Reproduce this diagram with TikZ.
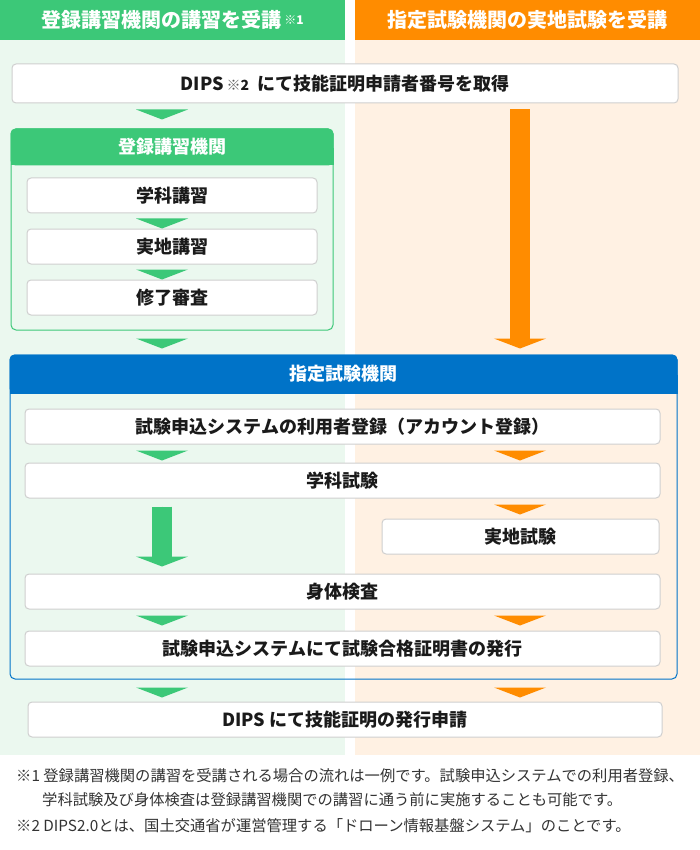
\documentclass[tikz,border=0pt]{standalone}
\usepackage{fontspec}
\setmainfont{Noto Sans CJK JP}
\usetikzlibrary{calc,arrows.meta}
\definecolor{gc}{HTML}{3CC878}
\definecolor{lg}{HTML}{EBF8EF}
\definecolor{oc}{HTML}{FF8C00}
\definecolor{lo}{HTML}{FFF1E3}
\definecolor{bc}{HTML}{0073C8}
\definecolor{bgray}{HTML}{CFCFCF}
\definecolor{txt}{HTML}{1A1A1A}
\definecolor{fn}{HTML}{333333}
\tikzset{
  wbox/.style={draw=bgray, fill=white, rounded corners=4pt, line width=1pt, inner sep=0pt,
    font=\bfseries\fontsize{18}{21}\selectfont, text=txt},
  hdr/.style={inner sep=0pt, text=white, font=\bfseries\fontsize{20}{23}\selectfont},
  ttl/.style={inner sep=0pt, text=white, font=\bfseries\fontsize{18}{21}\selectfont},
  frame/.style={line width=1pt, rounded corners=5pt, inner sep=0pt},
  note/.style={inner sep=0pt, anchor=west, text=fn, font=\fontsize{15.3}{17}\selectfont},
  bigarrow/.style={line width=20pt, -{Triangle[width=52pt,length=10pt]}}
}
\newcommand\chev[3]{\fill[#1] ($(#2)+(-26,#3)$) -- ($(#2)+(26,#3)$) -- ($(#2)+(0,#3+10)$) -- cycle;}
\begin{document}
\begin{tikzpicture}[x=1pt,y=-1pt]
\useasboundingbox (0,0) rectangle (700,850);
\fill[white] (0,0) rectangle (700,850);
\fill[lg] (0,40) rectangle (345,755);
\fill[lo] (355,40) rectangle (700,755);
% headers
\node[hdr, fill=gc, minimum width=345pt, minimum height=40pt] (hg) at (172.5,20)
  {登録講習機関の講習を受講\hspace{3pt}\raisebox{3pt}{\fontsize{12}{12}\selectfont ※1}};
\node[hdr, fill=oc, minimum width=345pt, minimum height=40pt] (ho) at (527.5,20)
  {指定試験機関の実地試験を受講};
\coordinate (gx) at (162,0);
\coordinate (ox) at (520,0);
% DIPS 1
\node[wbox, minimum width=666pt, minimum height=39pt] (dips1) at (345,83.5)
  {DIPS\,{\fontsize{14}{14}\selectfont\mdseries\color{fn!80}※}{\fontsize{14}{14}\selectfont 2}\hspace{4pt} にて技能証明申請者番号を取得};
% green frame
\node[frame, draw=gc, minimum width=322pt, minimum height=201pt] (tframe) at (172,229.5) {};
\fill[gc, rounded corners=5pt] (tframe.north west) rectangle ($(tframe.north east)+(0,37)$);
\fill[gc] ($(tframe.north west)+(0,20)$) rectangle ($(tframe.north east)+(0,37)$);
\node[ttl] (ttitle) at ($(tframe.north)+(0,18.5)$) {登録講習機関};
\node[wbox, minimum width=290pt, minimum height=35pt] (gk) at (172,195.5) {学科講習};
\node[wbox, minimum width=290pt, minimum height=35pt] (jk) at (172,246.5) {実地講習};
\node[wbox, minimum width=290pt, minimum height=35pt] (sr) at (172,297.5) {修了審査};
% blue frame
\node[frame, draw=bc, minimum width=667pt, minimum height=324pt] (bframe) at (343.5,517) {};
\fill[bc, rounded corners=5pt] (bframe.north west) rectangle ($(bframe.north east)+(0,39)$);
\fill[bc] ($(bframe.north west)+(0,20)$) rectangle ($(bframe.north east)+(0,39)$);
\node[ttl] (btitle) at ($(bframe.north)+(0,19.5)$) {指定試験機関};
\node[wbox, minimum width=635pt, minimum height=35pt] (reg) at (342.5,426.5) {試験申込システムの利用者登録（アカウント登録）};
\node[wbox, minimum width=635pt, minimum height=35pt] (gs) at (342.5,480.5) {学科試験};
\node[wbox, minimum width=277pt, minimum height=35pt] (js) at (520.5,536.5) {実地試験};
\node[wbox, minimum width=635pt, minimum height=35pt] (st) at (342.5,591.5) {身体検査};
\node[wbox, minimum width=635pt, minimum height=35pt] (gc) at (342.5,648.5) {試験申込システムにて試験合格証明書の発行};
% DIPS 2
\node[wbox, minimum width=634pt, minimum height=35pt] (dips2) at (345,719.5) {DIPS にて技能証明の発行申請};
% chevrons
\chev{gc}{dips1.south -| gx}{6}
\chev{gc}{gk.south -| gx}{5}
\chev{gc}{jk.south -| gx}{5}
\chev{gc}{tframe.south -| gx}{8}
\chev{gc}{reg.south -| gx}{6}
\chev{oc}{reg.south -| ox}{6}
\chev{oc}{gs.south -| ox}{6}
\chev{gc}{st.south -| gx}{6}
\chev{oc}{st.south -| ox}{6}
\chev{gc}{bframe.south -| gx}{8}
\chev{oc}{bframe.south -| ox}{8}
% big arrows
\draw[bigarrow, draw=oc, fill=oc] ($(dips1.south -| ox)+(0,6)$) -- ($(bframe.north -| ox)+(0,-6)$);
\draw[bigarrow, draw=gc, fill=gc] ($(gs.south -| gx)+(0,8)$) -- ($(st.north -| gx)+(0,-7)$);
% notes
\node[note] (n1) at (16,776) {※1 登録講習機関の講習を受講される場合の流れは一例です。試験申込システムでの利用者登録、};
\node[note] (n2) at (42,800) {学科試験及び身体検査は登録講習機関での講習に通う前に実施することも可能です。};
\node[note] (n3) at (16,826) {※2 DIPS2.0とは、国土交通省が運営管理する「ドローン情報基盤システム」のことです。};
\end{tikzpicture}
\end{document}
